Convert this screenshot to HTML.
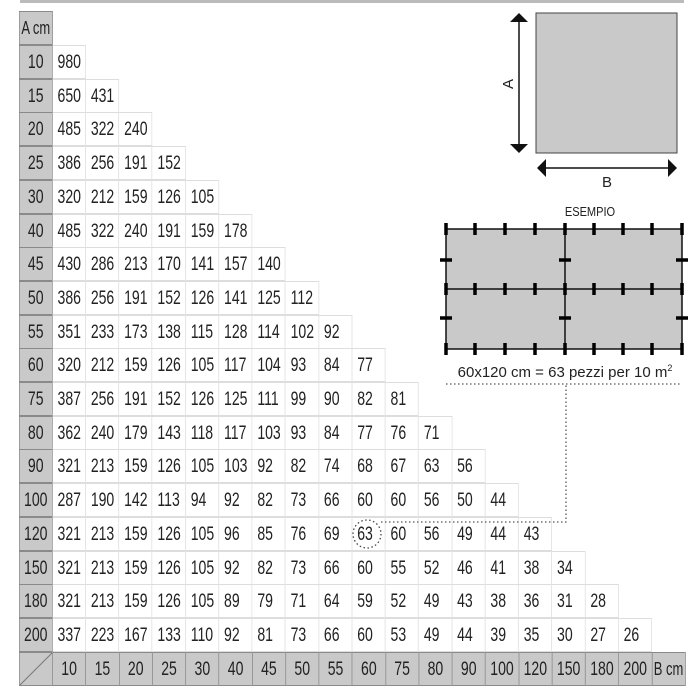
<!DOCTYPE html>
<html><head><meta charset="utf-8"><style>
body{margin:0;width:700px;height:700px;background:#fff;position:relative;overflow:hidden;font-family:"Liberation Sans",sans-serif;color:#222}
.top{position:absolute;left:20px;top:0;width:664px;height:3px;background:#bbb}
.r{position:absolute;left:19px;height:34px;display:flex;transform:scaleX(.72);transform-origin:0 0;white-space:nowrap}
.r b,.r i{flex:none;box-sizing:border-box;height:34px;font-style:normal;font-weight:normal;font-size:19.5px;line-height:33px}
.r b{width:46.5px;background:#c9c9c9;border:1px solid #8a8a8a;text-align:center}
.r i{width:47.25px;border:1px solid #ddd;margin-left:-1px;padding-left:7px;background:#fff}
.r i:first-of-type{margin-left:0;border-left:none;width:46.25px}
.bot{position:absolute;left:19px;top:652px;height:34px;display:flex;transform:scaleX(.72);transform-origin:0 0;white-space:nowrap}
.bot span{flex:none;box-sizing:border-box;width:47.25px;height:34px;background:#c9c9c9;border:1px solid #8a8a8a;margin-left:-1px;text-align:center;font-size:19.5px;line-height:33px}
.bot span:first-child{width:47px;margin-left:0}
</style></head><body>
<div class="top"></div>
<div class="r" style="top:11px"><b style="font-size:18px">A cm</b></div>
<div class="r" style="top:45px"><b>10</b><i>980</i></div>
<div class="r" style="top:78.7px"><b>15</b><i>650</i><i>431</i></div>
<div class="r" style="top:112.4px"><b>20</b><i>485</i><i>322</i><i>240</i></div>
<div class="r" style="top:146.1px"><b>25</b><i>386</i><i>256</i><i>191</i><i>152</i></div>
<div class="r" style="top:179.8px"><b>30</b><i>320</i><i>212</i><i>159</i><i>126</i><i>105</i></div>
<div class="r" style="top:213.5px"><b>40</b><i>485</i><i>322</i><i>240</i><i>191</i><i>159</i><i>178</i></div>
<div class="r" style="top:247.2px"><b>45</b><i>430</i><i>286</i><i>213</i><i>170</i><i>141</i><i>157</i><i>140</i></div>
<div class="r" style="top:280.9px"><b>50</b><i>386</i><i>256</i><i>191</i><i>152</i><i>126</i><i>141</i><i>125</i><i>112</i></div>
<div class="r" style="top:314.6px"><b>55</b><i>351</i><i>233</i><i>173</i><i>138</i><i>115</i><i>128</i><i>114</i><i>102</i><i>92</i></div>
<div class="r" style="top:348.3px"><b>60</b><i>320</i><i>212</i><i>159</i><i>126</i><i>105</i><i>117</i><i>104</i><i>93</i><i>84</i><i>77</i></div>
<div class="r" style="top:382px"><b>75</b><i>387</i><i>256</i><i>191</i><i>152</i><i>126</i><i>125</i><i>111</i><i>99</i><i>90</i><i>82</i><i>81</i></div>
<div class="r" style="top:415.7px"><b>80</b><i>362</i><i>240</i><i>179</i><i>143</i><i>118</i><i>117</i><i>103</i><i>93</i><i>84</i><i>77</i><i>76</i><i>71</i></div>
<div class="r" style="top:449.4px"><b>90</b><i>321</i><i>213</i><i>159</i><i>126</i><i>105</i><i>103</i><i>92</i><i>82</i><i>74</i><i>68</i><i>67</i><i>63</i><i>56</i></div>
<div class="r" style="top:483.1px"><b>100</b><i>287</i><i>190</i><i>142</i><i>113</i><i>94</i><i>92</i><i>82</i><i>73</i><i>66</i><i>60</i><i>60</i><i>56</i><i>50</i><i>44</i></div>
<div class="r" style="top:516.8px"><b>120</b><i>321</i><i>213</i><i>159</i><i>126</i><i>105</i><i>96</i><i>85</i><i>76</i><i>69</i><i>63</i><i>60</i><i>56</i><i>49</i><i>44</i><i>43</i></div>
<div class="r" style="top:550.5px"><b>150</b><i>321</i><i>213</i><i>159</i><i>126</i><i>105</i><i>92</i><i>82</i><i>73</i><i>66</i><i>60</i><i>55</i><i>52</i><i>46</i><i>41</i><i>38</i><i>34</i></div>
<div class="r" style="top:584.2px"><b>180</b><i>321</i><i>213</i><i>159</i><i>126</i><i>105</i><i>89</i><i>79</i><i>71</i><i>64</i><i>59</i><i>52</i><i>49</i><i>43</i><i>38</i><i>36</i><i>31</i><i>28</i></div>
<div class="r" style="top:617.9px"><b>200</b><i>337</i><i>223</i><i>167</i><i>133</i><i>110</i><i>92</i><i>81</i><i>73</i><i>66</i><i>60</i><i>53</i><i>49</i><i>44</i><i>39</i><i>35</i><i>30</i><i>27</i><i>26</i></div>
<div class="bot"><span></span><span>10</span><span>15</span><span>20</span><span>25</span><span>30</span><span>40</span><span>45</span><span>50</span><span>55</span><span>60</span><span>75</span><span>80</span><span>90</span><span>100</span><span>120</span><span>150</span><span>180</span><span>200</span><span style="font-size:18px">B cm</span></div>
<svg width="700" height="700" style="position:absolute;left:0;top:0" xmlns="http://www.w3.org/2000/svg">
<line x1="20" y1="685" x2="52" y2="653" stroke="#777" stroke-width="1"/>
<circle cx="367" cy="534" r="14" fill="none" stroke="#444" stroke-width="1.3" stroke-dasharray="1.5 2.5"/>
<polyline points="381,522 566,522 566,385" fill="none" stroke="#555" stroke-width="1.3" stroke-dasharray="1.5 2.5"/>
<line x1="446" y1="384" x2="682" y2="384" stroke="#555" stroke-width="1.3" stroke-dasharray="1.5 2.5"/>
<rect x="536" y="13" width="141" height="140" fill="#c9c9c9" stroke="#444" stroke-width="1"/>
<line x1="519" y1="18" x2="519" y2="148" stroke="#111" stroke-width="1.5"/>
<polygon points="510,22 528,22 519,13" fill="#111"/>
<polygon points="510,144 528,144 519,153" fill="#111"/>
<text transform="translate(513,84) rotate(-90)" text-anchor="middle" font-family="Liberation Sans, sans-serif" font-size="15" fill="#222">A</text>
<line x1="542" y1="168" x2="672" y2="168" stroke="#111" stroke-width="1.5"/>
<polygon points="546,159 546,177 537,168" fill="#111"/>
<polygon points="668,159 668,177 677,168" fill="#111"/>
<text x="607" y="187" text-anchor="middle" font-family="Liberation Sans, sans-serif" font-size="15" fill="#222">B</text>
<text x="590" y="216" text-anchor="middle" font-family="Liberation Sans, sans-serif" font-size="13" fill="#222" transform="translate(590 0) scale(.85 1) translate(-590 0)">ESEMPIO</text>
<rect x="446" y="229" width="236" height="120" fill="#c9c9c9" stroke="#111" stroke-width="1.5"/>
<line x1="565" y1="229" x2="565" y2="349" stroke="#111" stroke-width="1.5"/>
<line x1="446" y1="289" x2="682" y2="289" stroke="#111" stroke-width="1.5"/>
<g stroke="#000" stroke-width="3.5">
<path d="M446 223v12M475 223v12M505 223v12M535 223v12M565 223v12M594 223v12M623 223v12M652 223v12M682 223v12"/>
<path d="M446 283v12M475 283v12M505 283v12M535 283v12M565 283v12M594 283v12M623 283v12M652 283v12M682 283v12"/>
<path d="M446 343v12M475 343v12M505 343v12M535 343v12M565 343v12M594 343v12M623 343v12M652 343v12M682 343v12"/>
<path d="M440 260h12M559 260h12M676 260h12M440 318h12M559 318h12M676 318h12"/>
</g>
<text x="565" y="377" text-anchor="middle" font-family="Liberation Sans, sans-serif" font-size="15" fill="#222">60x120 cm = 63 pezzi per 10 m<tspan font-size="9" dy="-6">2</tspan></text>
</svg>
</body></html>
